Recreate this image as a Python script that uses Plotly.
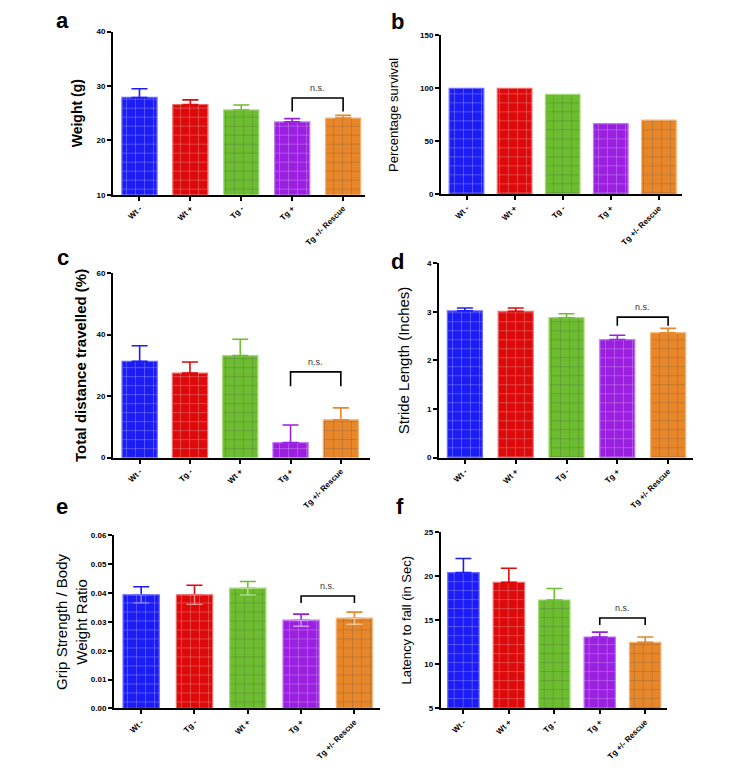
import plotly.graph_objects as go

# ---------------- data ----------------
cats_std = ["Wt -", "Wt +", "Tg -", "Tg +", "Tg +/- Rescue"]
cats_alt = ["Wt -", "Tg -", "Wt +", "Tg +", "Tg +/- Rescue"]

weight_mean = [27.9, 26.6, 25.6, 23.4, 24.1]
weight_err = [1.6, 0.85, 0.9, 0.6, 0.5]

survival_mean = [100, 100, 94.4, 66.7, 70.0]

distance_mean = [31.3, 27.5, 33.2, 4.9, 12.3]
distance_err = [5.1, 3.6, 5.3, 5.7, 3.9]

stride_mean = [3.02, 3.01, 2.88, 2.43, 2.57]
stride_err = [0.06, 0.07, 0.08, 0.09, 0.09]

grip_mean = [0.0394, 0.0394, 0.0417, 0.0306, 0.0313]
grip_err = [0.0028, 0.0033, 0.0023, 0.0021, 0.0021]

latency_mean = [20.4, 19.3, 17.3, 13.1, 12.5]
latency_err = [1.6, 1.6, 1.3, 0.55, 0.6]

# ---------------- style ----------------
W, H = 750, 774
colors = ["#1c1cf5", "#dc0a0a", "#6cbd30", "#9a1fe0", "#e8872a"]
borders = ["#6a6aff", "#f06a6a", "#a4dc74", "#c07af2", "#f6b272"]
light = ["#8a8aff", "#f59090", "#b4e68a", "#cf9af5", "#f8c490"]
FONT = "Liberation Sans, Arial, Helvetica, sans-serif"

panels = [
    dict(letter="a", cats=cats_std, mean=weight_mean, err=weight_err,
         title="<b>Weight (g)</b>", tsize=14, tickvals=[10, 20, 30, 40], yr=[10, 40],
         px=(113, 365), py=(28, 193), xr=[-0.52, 4.43], bw=0.69, standoff=11,
         ns=(0.107, 0.083), lab=(62, 17), lower=False, fmt=None),
    dict(letter="b", cats=cats_std, mean=survival_mean, err=None,
         title="Percentage survival", tsize=13, tickvals=[0, 50, 100, 150], yr=[0, 150],
         px=(441, 682), py=(31.7, 192.7), xr=[-0.53, 4.48], bw=0.72, standoff=18,
         ns=None, lab=(398, 18), lower=False, fmt=None),
    dict(letter="c", cats=cats_alt, mean=distance_mean, err=distance_err,
         title="<b>Total distance travelled (%)</b>", tsize=15, tickvals=[0, 20, 40, 60], yr=[0, 60],
         px=(113, 370), py=(272.3, 459), xr=[-0.53, 4.58], bw=0.70, standoff=6,
         ns=(0.195, 0.078), lab=(63, 256), lower=False, fmt=None),
    dict(letter="d", cats=cats_std, mean=stride_mean, err=stride_err,
         title="Stride Length (Inches)", tsize=15, tickvals=[0, 1, 2, 3, 4], yr=[0, 4],
         px=(439, 693), py=(262.3, 459), xr=[-0.51, 4.49], bw=0.69, standoff=14,
         ns=(0.058, 0.045), lab=(398, 261), lower=False, fmt=None),
    dict(letter="e", cats=cats_alt, mean=grip_mean, err=grip_err,
         title="Grip Strength / Body<br>Weight Ratio", tsize=15,
         tickvals=[0, 0.01, 0.02, 0.03, 0.04, 0.05, 0.06], yr=[0, 0.06],
         px=(114, 380), py=(537.7, 712.7), xr=[-0.51, 4.48], bw=0.68, standoff=0,
         ns=(0.093, 0.04), lab=(62, 508), lower=True, fmt=".2f"),
    dict(letter="f", cats=cats_std, mean=latency_mean, err=latency_err,
         title="Latency to fall (in Sec)", tsize=13, tickvals=[5, 10, 15, 20, 25], yr=[5, 25],
         px=(440.7, 667), py=(534.3, 712.7), xr=[-0.5, 4.48], bw=0.69, standoff=10,
         ns=(0.08, 0.04), lab=(400, 508), lower=False, fmt=None),
]

fig = go.Figure()
shapes = []
annotations = []

for i, p in enumerate(panels):
    n = i + 1
    xa = "x" if n == 1 else f"x{n}"
    ya = "y" if n == 1 else f"y{n}"
    xs = list(range(len(p["cats"])))

    fig.add_trace(go.Bar(
        x=xs, y=p["mean"], width=p["bw"], xaxis=xa, yaxis=ya, showlegend=False,
        marker=dict(color=colors, line=dict(color=borders, width=1.2),
                    pattern=dict(shape="+", fillmode="overlay", size=9, solidity=0.1,
                                 fgcolor="rgba(255,255,255,0.32)")),
    ))

    if p["err"] is not None:
        for j in xs:
            fig.add_trace(go.Scatter(
                x=[j], y=[p["mean"][j]], mode="markers", xaxis=xa, yaxis=ya,
                marker=dict(color="rgba(0,0,0,0)", size=1), showlegend=False, hoverinfo="skip",
                error_y=dict(type="data", symmetric=False, array=[p["err"][j]], arrayminus=[0],
                             color=colors[j], thickness=1.6, width=8),
            ))
            if p["lower"]:
                fig.add_trace(go.Scatter(
                    x=[j], y=[p["mean"][j]], mode="markers", xaxis=xa, yaxis=ya,
                    marker=dict(color="rgba(0,0,0,0)", size=1), showlegend=False, hoverinfo="skip",
                    error_y=dict(type="data", symmetric=False, array=[0], arrayminus=[p["err"][j]],
                                 color=light[j], thickness=1.4, width=8),
                ))

    x0, x1 = p["px"][0] / W, p["px"][1] / W
    y0, y1 = 1 - p["py"][1] / H, 1 - p["py"][0] / H
    axis_x = dict(domain=[x0, x1], anchor=ya, range=p["xr"], tickmode="array", tickvals=xs,
                  ticktext=p["cats"], tickangle=-45, showline=True, linecolor="black", linewidth=2,
                  ticks="outside", ticklen=4, tickwidth=1.5, tickcolor="black", showgrid=False,
                  zeroline=False, tickfont=dict(family=FONT, size=8, color="black", weight="bold"),
                  fixedrange=True)
    axis_y = dict(domain=[y0, y1], anchor=xa, range=p["yr"], tickmode="array", tickvals=p["tickvals"],
                  showline=True, linecolor="black", linewidth=2, ticks="outside", ticklen=4,
                  tickwidth=1.5, tickcolor="black", showgrid=False, zeroline=False,
                  tickfont=dict(family=FONT, size=8, color="black", weight="bold"),
                  title=dict(text=p["title"], font=dict(family=FONT, size=p["tsize"], color="black"),
                             standoff=p["standoff"]), fixedrange=True)
    if p["fmt"]:
        axis_y["tickformat"] = p["fmt"]
    key = "" if n == 1 else str(n)
    fig.update_layout(**{f"xaxis{key}": axis_x, f"yaxis{key}": axis_y})

    if p["ns"] is not None:
        rng = p["yr"][1] - p["yr"][0]
        top = max(p["mean"][3] + p["err"][3], p["mean"][4] + p["err"][4]) + p["ns"][0] * rng
        leg = top - p["ns"][1] * rng
        shapes.append(dict(type="path", xref=xa, yref=ya,
                           path=f"M 3,{leg} L 3,{top} L 4,{top} L 4,{leg}",
                           line=dict(color="black", width=1.6)))
        annotations.append(dict(x=3.5, y=top, xref=xa, yref=ya, text="n.s.", showarrow=False,
                                yanchor="bottom", yshift=3,
                                font=dict(family=FONT, size=9, color="#333333")))

    annotations.append(dict(x=p["lab"][0] / W, y=1 - p["lab"][1] / H, xref="paper", yref="paper",
                            text=f"<b>{p['letter']}</b>", showarrow=False, xanchor="center",
                            yanchor="middle", font=dict(family=FONT, size=22, color="black")))

fig.update_layout(width=W, height=H, margin=dict(l=0, r=0, t=0, b=0),
                  plot_bgcolor="white", paper_bgcolor="white", bargap=0.3,
                  shapes=shapes, annotations=annotations, font=dict(family=FONT))

fig.write_html("out.html", config={"displayModeBar": False},
               post_script="document.body.style.margin='0px';")
